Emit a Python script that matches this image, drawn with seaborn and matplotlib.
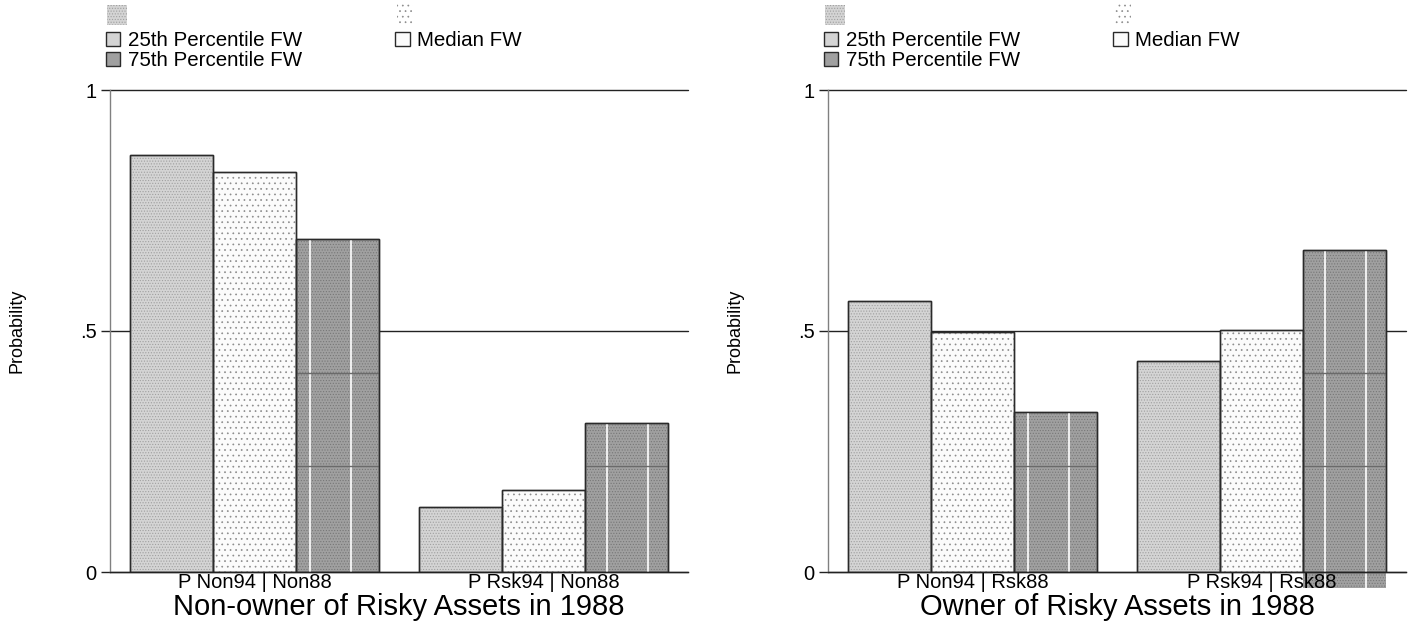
import numpy as np
import pandas as pd
import matplotlib.pyplot as plt
import matplotlib.patches as mpatches
import seaborn as sns

series = ["25th Percentile FW", "Median FW", "75th Percentile FW"]
groups_left = ["P Non94 | Non88", "P Rsk94 | Non88"]
groups_right = ["P Non94 | Rsk88", "P Rsk94 | Rsk88"]
p25_left = [0.866, 0.134]
med_left = [0.829, 0.171]
p75_left = [0.691, 0.309]
p25_right = [0.563, 0.437]
med_right = [0.497, 0.503]
p75_right = [0.332, 0.668]
titles = ["Non-owner of Risky Assets in 1988", "Owner of Risky Assets in 1988"]
yticks = [0, 0.5, 1]
ytick_labels = ["0", ".5", "1"]

face = ["#d4d4d4", "#fbfbfb", "#a0a0a0"]
dots = ["#a0a0a0", "#8c8c8c", "#777777"]
hatches = ["......", "...", "......"]
edge = "#2a2a2a"

sns.set_theme(style="white")
plt.rcParams["font.family"] = ["Liberation Sans", "DejaVu Sans"]
plt.rcParams["hatch.linewidth"] = 0.5
plt.rcParams["text.color"] = "black"
plt.rcParams["axes.labelcolor"] = "black"

W, H = 1414, 628
fig = plt.figure(figsize=(W / 100, H / 100), dpi=100)
axes = [fig.add_axes([110 / W, 1 - 572 / H, 578 / W, 482 / H]),
        fig.add_axes([828 / W, 1 - 572 / H, 578 / W, 482 / H])]

panels = [(groups_left, [p25_left, med_left, p75_left]),
          (groups_right, [p25_right, med_right, p75_right])]

for k, (ax, (groups, vals)) in enumerate(zip(axes, panels)):
    df = pd.DataFrame({
        "group": np.tile(groups, 3),
        "series": np.repeat(series, 2),
        "value": np.concatenate(vals),
    })
    sns.barplot(data=df, x="group", y="value", hue="series", order=groups,
                hue_order=series, palette=face, saturation=1, width=0.86,
                edgecolor=edge, linewidth=1, legend=False, ax=ax, zorder=2)

    # dotted fill patterns, drawn over the bars
    for i, cont in enumerate(ax.containers):
        for j, bar in enumerate(cont):
            x0, w, h = bar.get_x(), bar.get_width(), bar.get_height()
            ax.add_patch(mpatches.Rectangle((x0, 0), w, h, fill=False, hatch=hatches[i],
                                            edgecolor=dots[i], lw=0, zorder=2.1))
            if i == 2:
                fr = [0.17, 0.67] if j == 0 else [0.27, 0.76]
                xs = [x0 + f * w for f in fr]
                if k == 1 and j == 1:
                    # pattern bleeding under the axis in the original, behind the labels
                    ax.add_patch(mpatches.Rectangle((x0, -0.033), w, 0.033, facecolor=face[2],
                                                    hatch=hatches[2], edgecolor=dots[2], lw=0,
                                                    clip_on=False, zorder=0.3))
                    ax.vlines(xs, -0.033, 0, color="white", lw=1.2, zorder=0.35,
                              clip_on=False)
                ax.vlines(xs, 0, h, color="white", lw=1.2, zorder=2.2)
                ax.hlines([y for y in (0.22, 0.413) if y < h], x0, x0 + w,
                          color="#6a6a6a", lw=1, zorder=2.2)
            ax.add_patch(mpatches.Rectangle((x0, 0), w, h, fill=False, edgecolor=edge,
                                            lw=1, zorder=2.3))

    ax.set_xlim(-0.5, 1.5)
    ax.set_ylim(0, 1)
    ax.set_yticks(yticks)
    ax.set_yticklabels(ytick_labels)
    ax.yaxis.grid(True, color="#222222", lw=1)
    for gl in ax.get_ygridlines():
        gl.set_clip_on(False)
    ax.set_axisbelow(True)
    for s in ["top", "right"]:
        ax.spines[s].set_visible(False)
    ax.spines["left"].set_color("#808080")
    ax.spines["left"].set_linewidth(1)
    ax.spines["bottom"].set_color("#222222")
    ax.spines["bottom"].set_linewidth(1)
    ax.tick_params(axis="y", length=6.5, width=1, color="#222222", pad=3, labelsize=14.5,
                   labelcolor="black", left=True)
    ax.tick_params(axis="x", length=0, pad=0.5, labelsize=14.5, labelcolor="black")
    ax.set_ylabel("Probability", fontsize=13)
    ax.yaxis.set_label_coords(-0.147, 0.5)
    ax.set_xlabel(titles[k], fontsize=21, labelpad=1)

    handles = [mpatches.Patch(facecolor=face[i], edgecolor=edge, lw=1) for i in range(3)]
    order = [0, 2, 1]
    ax.legend([handles[i] for i in order], [series[i] for i in order],
              loc="upper left", bbox_to_anchor=(-0.007, 1.122), ncol=2, frameon=False,
              fontsize=14.8, handlelength=0.7, handleheight=0.7, handletextpad=0.35,
              labelspacing=0.05, columnspacing=4.55, borderpad=0, borderaxespad=0)

    # stray pattern swatches above the legend
    off = 718 * k
    fig.patches.append(mpatches.Rectangle(((107 + off) / W, 1 - 25 / H), 20 / W, 20 / H,
                                          transform=fig.transFigure, facecolor=face[0],
                                          hatch=hatches[0], edgecolor=dots[0], lw=0))
    fig.patches.append(mpatches.Rectangle(((397 + off) / W, 1 - 24 / H), 16 / W, 20 / H,
                                          transform=fig.transFigure, facecolor="white",
                                          hatch=hatches[1], edgecolor=dots[1], lw=0))

fig.savefig("out.png", dpi=100)
